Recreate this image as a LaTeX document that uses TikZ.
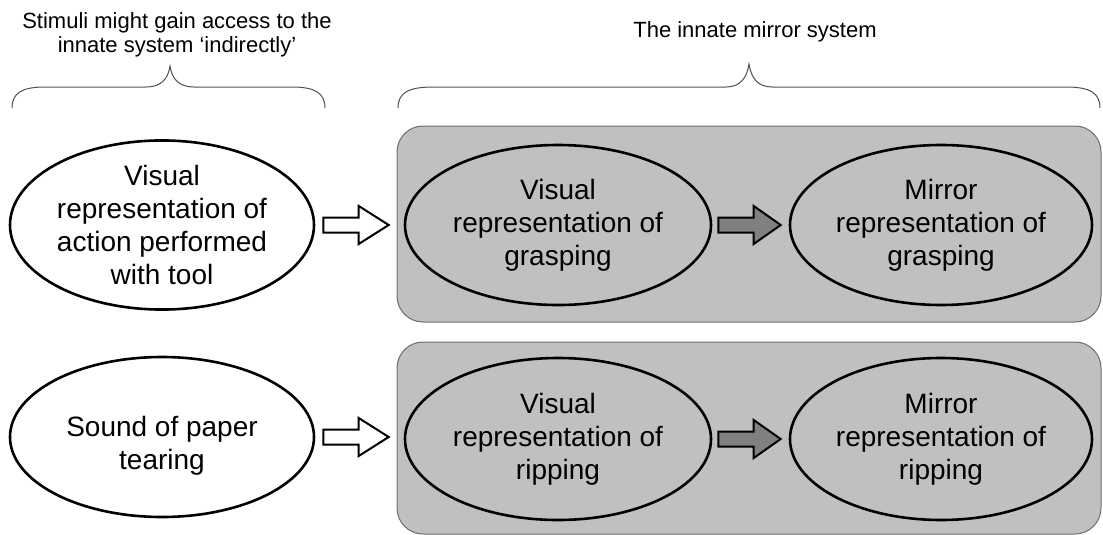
\documentclass[tikz,border=0pt]{standalone}
\usepackage{fontspec}
\setmainfont{Liberation Sans}
\usetikzlibrary{shapes.geometric,calc}
\definecolor{boxgray}{HTML}{C0C0C0}
\definecolor{boxedge}{HTML}{6E6E6E}
\definecolor{arrowgray}{HTML}{808080}
\definecolor{bracegray}{HTML}{505050}
\begin{document}
\begin{tikzpicture}[x=1pt,y=-1pt,
  ell/.style={ellipse, draw=black, line width=2.6pt, inner sep=0pt, align=center,
    font=\fontsize{28}{33}\selectfont},
  ltext/.style={align=center, font=\fontsize{28}{33}\selectfont, inner sep=0pt},
  head/.style={align=center, font=\fontsize{22}{24.4}\selectfont, inner sep=0pt},
  graybox/.style={rectangle, rounded corners=26pt, draw=boxedge, line width=1pt, fill=boxgray, inner sep=0pt},
  brace/.style={draw=bracegray, line width=1pt},
  blockarrow/.style={line width=2pt, draw=black, line join=miter,
    to path={let \p1=(\tikztostart), \p2=(\tikztotarget) in
      (\x1,{\y1+7.5pt}) -- ({\x2-#1},{\y1+7.5pt}) -- ({\x2-#1},{\y1+19pt}) -- (\x2,\y1)
      -- ({\x2-#1},{\y1-19pt}) -- ({\x2-#1},{\y1-7.5pt}) -- (\x1,{\y1-7.5pt}) -- cycle}},
]
\useasboundingbox (0,0) rectangle (1103,535);

% header texts
\node[head] (t1) at (177,34.8)
  {Stimuli might gain access to the\\innate system ‘indirectly’};
\node[head, anchor=base] (t2) at (755,37.7) {The innate mirror system};

% braces
\draw[brace] (12,108) .. controls (12,93) and (22,87) .. (45,87) -- (146,87)
  .. controls (160,87) and (168,80) .. (170,66)
  .. controls (172,80) and (180,87) .. (194,87) -- (292,87)
  .. controls (315,87) and (325,93) .. (325,108);
\draw[brace] (398,108) .. controls (398,93) and (408,87) .. (433,87) -- (726,87)
  .. controls (740,87) and (747,78) .. (749,64)
  .. controls (751,78) and (758,87) .. (772,87) -- (1066,87)
  .. controls (1090,87) and (1100,93) .. (1100,108);

% gray boxes
\node[graybox, minimum width=704pt, minimum height=196pt] (topbox) at (749,224) {};
\node[graybox, minimum width=704pt, minimum height=192pt] (botbox) at (749,438) {};

% ellipses
\node[ell, fill=white, minimum width=304pt, minimum height=160pt] (l1) at (162,225)
  {Visual\\representation of\\action performed\\with tool};
\node[ell, fill=white, minimum width=304pt, minimum height=160pt,
  label={[ltext, yshift=-9pt]center:Sound of paper\\tearing}] (l2) at (162,437) {};
\node[ell, minimum width=306pt, minimum height=160pt] (v1) at (558,225)
  {Visual\\representation of\\grasping};
\node[ell, minimum width=302pt, minimum height=160pt] (m1) at (941,225)
  {Mirror\\representation of\\grasping};
\node[ell, minimum width=306pt, minimum height=162pt] (v2) at (558,439)
  {Visual\\representation of\\ripping};
\node[ell, minimum width=302pt, minimum height=162pt] (m2) at (941,439)
  {Mirror\\representation of\\ripping};

% arrow end points
\coordinate (w1s) at ([xshift=8pt]l1.east);
\coordinate (w1e) at ([xshift=-15pt]v1.west);
\coordinate (w2s) at ([xshift=8pt]l2.east);
\coordinate (w2e) at ([xshift=-15pt]v2.west);
\coordinate (g1s) at ([xshift=6pt]v1.east);
\coordinate (g1e) at ([xshift=-8pt]m1.west);
\coordinate (g2s) at ([xshift=6pt]v2.east);
\coordinate (g2e) at ([xshift=-8pt]m2.west);

% block arrows
\draw[blockarrow=30pt, fill=white] (w1s) to (w1e);
\draw[blockarrow=30pt, fill=white] (w2s) to (w2e);
\draw[blockarrow=27pt, fill=arrowgray] (g1s) to (g1e);
\draw[blockarrow=27pt, fill=arrowgray] (g2s) to (g2e);
\end{tikzpicture}
\end{document}
